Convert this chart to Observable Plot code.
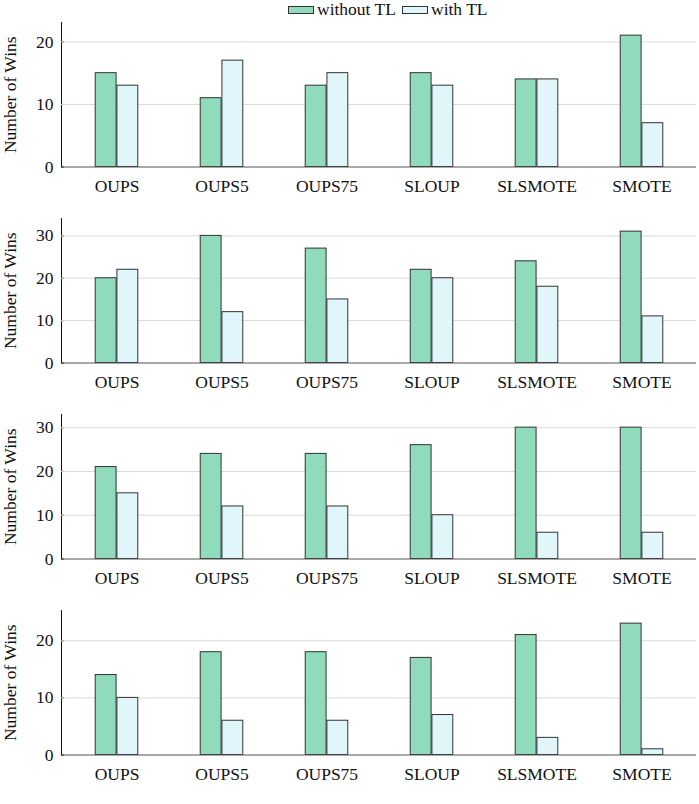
<!DOCTYPE html>
<html>
<head>
<meta charset="utf-8">
<script src="https://cdn.jsdelivr.net/npm/d3@7"></script>
<script src="https://cdn.jsdelivr.net/npm/@observablehq/plot@0.6"></script>
<style>
  body { margin: 0; background: white; width: 699px; }
  .legend { height: 18px; position: relative; font-family: "Liberation Serif", "Times New Roman", Times, "DejaVu Serif", serif; font-size: 17.5px; color: #111; }
  .legend .item { position: absolute; top: 0px; height: 19px; line-height: 19px; display: flex; align-items: center; white-space: nowrap; }
  .legend .sw { width: 24px; height: 6px; border: 1px solid #333; margin-right: 3px; }
  svg { display: block; }
  svg, svg text, svg g { font-family: "Liberation Serif", "Times New Roman", Times, "DejaVu Serif", serif !important; }
</style>
</head>
<body>
<div id="legend" class="legend"></div>
<div id="charts"></div>
<script>
const categories = ["OUPS", "OUPS5", "OUPS75", "SLOUP", "SLSMOTE", "SMOTE"];
const seriesNames = ["without TL", "with TL"];

const panel1WithoutTL = [15, 11, 13, 15, 14, 21];
const panel1WithTL    = [13, 17, 15, 13, 14, 7];
const panel2WithoutTL = [20, 30, 27, 22, 24, 31];
const panel2WithTL    = [22, 12, 15, 20, 18, 11];
const panel3WithoutTL = [21, 24, 24, 26, 30, 30];
const panel3WithTL    = [15, 12, 12, 10, 6, 6];
const panel4WithoutTL = [14, 18, 18, 17, 21, 23];
const panel4WithTL    = [10, 6, 6, 7, 3, 1];

const panel1Ticks = [0, 10, 20];
const panel2Ticks = [0, 10, 20, 30];
const panel3Ticks = [0, 10, 20, 30];
const panel4Ticks = [0, 10, 20];

const panels = [
  [panel1WithoutTL, panel1WithTL, panel1Ticks],
  [panel2WithoutTL, panel2WithTL, panel2Ticks],
  [panel3WithoutTL, panel3WithTL, panel3Ticks],
  [panel4WithoutTL, panel4WithTL, panel4Ticks]
];

const colors = ["#8fdbbb", "#e1f6fb"];
const W = 699, ML = 61, MR = 3;
const bw = (W - ML - MR) / categories.length;
const barW = 21.7;

// legend
const legend = document.getElementById("legend");
const lefts = [288, 402];
seriesNames.forEach((s, i) => {
  const item = document.createElement("div");
  item.className = "item";
  item.style.left = lefts[i] + "px";
  item.innerHTML = `<span class="sw" style="background:${colors[i]}"></span><span>${s}</span>`;
  legend.appendChild(item);
});

const charts = document.getElementById("charts");
panels.forEach(([wo, wi, ticks]) => {
  const rowsWo = categories.map((c, i) => ({cat: c, value: wo[i]}));
  const rowsWi = categories.map((c, i) => ({cat: c, value: wi[i]}));
  const ymax = 1.1 * d3.max([...wo, ...wi]);
  const chart = Plot.plot({
    width: W,
    height: 196,
    marginLeft: ML,
    marginRight: MR,
    marginTop: 4,
    marginBottom: 47.5,
    style: {fontFamily: "'Liberation Serif', 'Times New Roman', serif", fontSize: "17.5px", color: "#111", background: "white", overflow: "visible"},
    x: {domain: categories, padding: 0, tickSize: 0, tickPadding: 13, label: null},
    y: {domain: [0, ymax], ticks: ticks, tickSize: -3, tickPadding: 11, label: "Number of Wins", labelArrow: false, labelAnchor: "center", labelOffset: 58, line: true},
    marks: [
      Plot.ruleY(ticks.filter(t => t > 0), {stroke: "#d9d9d9", strokeWidth: 1}),
      Plot.barY(rowsWo, {x: "cat", y: "value", fill: colors[0], stroke: "#333", strokeWidth: 1, insetLeft: bw / 2 - barW, insetRight: bw / 2}),
      Plot.barY(rowsWi, {x: "cat", y: "value", fill: colors[1], stroke: "#333", strokeWidth: 1, insetLeft: bw / 2, insetRight: bw / 2 - barW}),
      Plot.ruleY([0], {stroke: "#555", strokeWidth: 1.2})
    ]
  });
  charts.appendChild(chart);
});
</script>
</body>
</html>
